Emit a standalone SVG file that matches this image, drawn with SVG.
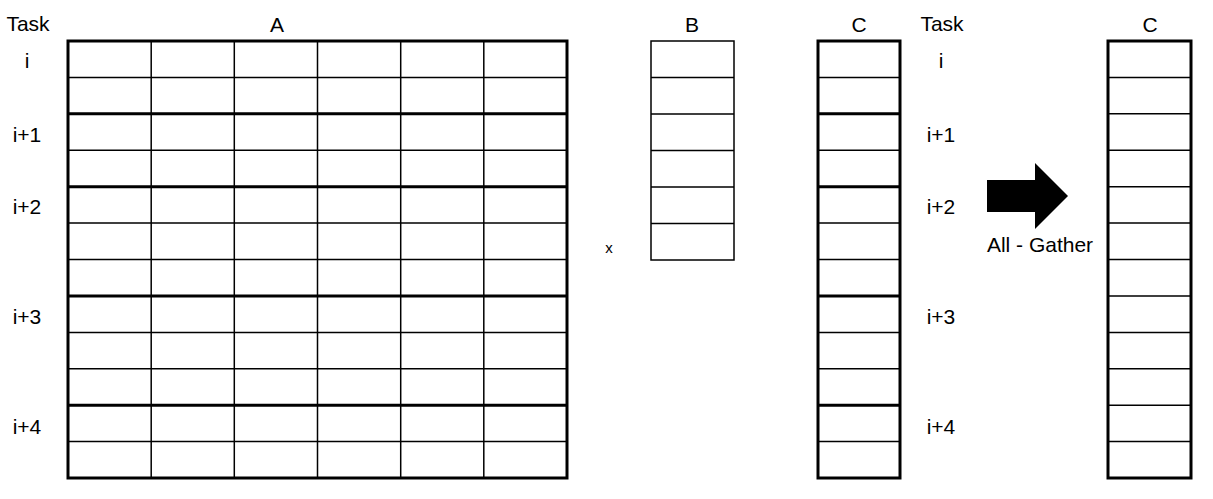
<svg xmlns="http://www.w3.org/2000/svg" width="1213" height="499" viewBox="0 0 1213 499">
<style>
.bg{fill:#fff}
.thin{stroke:#000;stroke-width:1.5;fill:none}
.thick{stroke:#000;stroke-width:3;fill:none}
.lbl{font-family:"Liberation Sans",Arial,sans-serif;font-size:21px;fill:#000;text-anchor:middle}
.small{font-family:"Liberation Sans",Arial,sans-serif;font-size:15px;fill:#000;text-anchor:middle}
</style>
<rect class="bg" x="0" y="0" width="1213" height="499"/>

<g id="task-labels-left">
<text class="lbl" x="28" y="31">Task</text>
<text class="lbl" x="27" y="68">i</text>
<text class="lbl" x="27" y="142">i+1</text>
<text class="lbl" x="27" y="214">i+2</text>
<text class="lbl" x="27" y="324">i+3</text>
<text class="lbl" x="27" y="434">i+4</text>
</g>

<g id="matrix-A">
<text class="lbl" x="277" y="32">A</text>
<path class="thin" d="M151.2 41V478M234.3 41V478M317.5 41V478M400.7 41V478M483.8 41V478"/>
<path class="thin" d="M68 77.4H567M68 150.3H567M68 223.1H567M68 259.5H567M68 332.4H567M68 368.8H567M68 441.6H567"/>
<path class="thick" d="M68 113.8H567M68 186.7H567M68 295.9H567M68 405.2H567"/>
<rect class="thick" x="68" y="41" width="499" height="437"/>
</g>

<g id="times">
<text class="small" x="609" y="253">x</text>
</g>

<g id="vector-B">
<text class="lbl" x="692" y="32">B</text>
<path class="thin" d="M651 77.5H734M651 114H734M651 150.5H734M651 187H734M651 223.5H734"/>
<rect class="thin" x="651" y="41" width="83" height="219"/>
</g>

<g id="vector-C">
<text class="lbl" x="859" y="32">C</text>
<path class="thin" d="M818 77.4H900M818 150.3H900M818 223.1H900M818 259.5H900M818 332.4H900M818 368.8H900M818 441.6H900"/>
<path class="thick" d="M818 113.8H900M818 186.7H900M818 295.9H900M818 405.2H900"/>
<rect class="thick" x="818" y="41" width="82" height="437"/>
</g>

<g id="task-labels-right">
<text class="lbl" x="942" y="31">Task</text>
<text class="lbl" x="941" y="68">i</text>
<text class="lbl" x="941" y="142">i+1</text>
<text class="lbl" x="941" y="214">i+2</text>
<text class="lbl" x="941" y="324">i+3</text>
<text class="lbl" x="941" y="434">i+4</text>
</g>

<g id="connectors">
<polygon points="987,180 1035,180 1035,163 1068,196 1035,229 1035,212 987,212" fill="#000"/>
<text class="lbl" x="1040" y="252">All - Gather</text>
</g>

<g id="vector-C-gathered">
<text class="lbl" x="1150" y="32">C</text>
<path class="thin" d="M1108 77.4H1191M1108 113.8H1191M1108 150.3H1191M1108 186.7H1191M1108 223.1H1191M1108 259.5H1191M1108 295.9H1191M1108 332.4H1191M1108 368.8H1191M1108 405.2H1191M1108 441.6H1191"/>
<rect class="thick" x="1108" y="41" width="83" height="437"/>
</g>
</svg>
